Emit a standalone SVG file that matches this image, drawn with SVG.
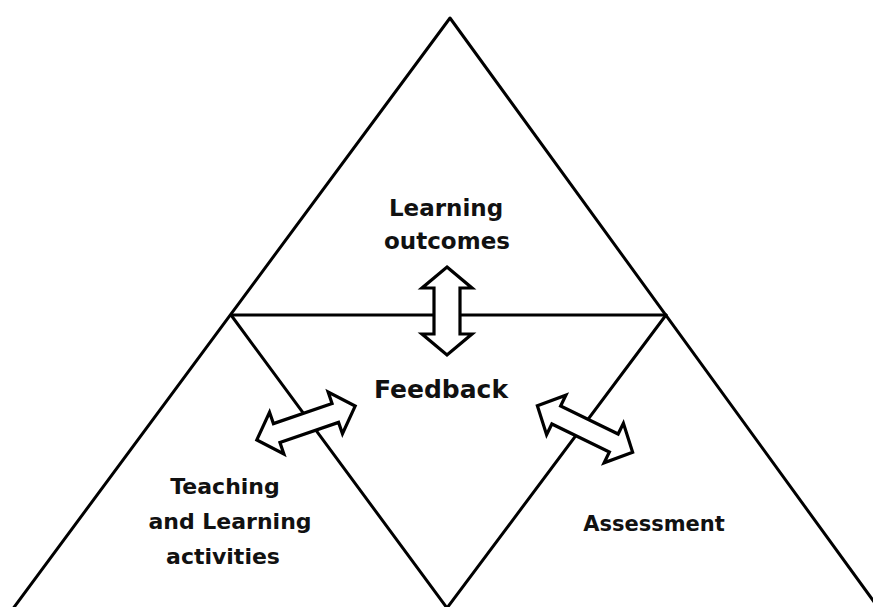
<svg xmlns="http://www.w3.org/2000/svg" width="873" height="607" viewBox="0 0 873 607">
<style>
.ln{stroke:#000;stroke-width:3;fill:none;stroke-linecap:round;stroke-linejoin:round}
.ar{stroke:#000;stroke-width:3.2;fill:#fff;stroke-linejoin:miter}
.t{font-family:"DejaVu Sans","Liberation Sans",sans-serif;font-weight:bold;font-size:22px;fill:#111;text-anchor:middle}
</style>
<rect width="873" height="607" fill="#fff"/>
<g id="connectors">
<path class="ln" d="M 12 610 L 450 18 L 880 610"/>
<path class="ln" d="M 231 315 L 666 315"/>
<path class="ln" d="M 231 315 L 447 608 L 666 315"/>
</g>
<g id="arrow-vertical">
<path class="ar" transform="translate(447,311) rotate(90)" d="M -44 0 L -23 -25 L -23 -13 L 23 -13 L 23 -25 L 44 0 L 23 25 L 23 13 L -23 13 L -23 25 Z"/>
</g>
<g id="arrow-left">
<path class="ar" transform="translate(306,423) rotate(-19)" d="M -52 0 L -31 -22 L -31 -10 L 31 -10 L 31 -22 L 52 0 L 31 22 L 31 10 L -31 10 L -31 22 Z"/>
</g>
<g id="arrow-right">
<path class="ar" transform="translate(585,429) rotate(26)" d="M -53 0 L -32 -22 L -32 -10 L 32 -10 L 32 -22 L 53 0 L 32 22 L 32 10 L -32 10 L -32 22 Z"/>
</g>
<g id="node-outcomes">
<text class="t" x="446" y="216" style="font-size:23px">Learning</text>
<text class="t" x="447" y="249" style="font-size:23px">outcomes</text>
</g>
<g id="node-feedback">
<text class="t" x="441" y="398" style="font-size:25px">Feedback</text>
</g>
<g id="node-teaching">
<text class="t" x="225" y="494">Teaching</text>
<text class="t" x="230" y="529">and Learning</text>
<text class="t" x="223" y="564">activities</text>
</g>
<g id="node-assessment">
<text class="t" x="654" y="531" style="font-size:21px">Assessment</text>
</g>
</svg>
